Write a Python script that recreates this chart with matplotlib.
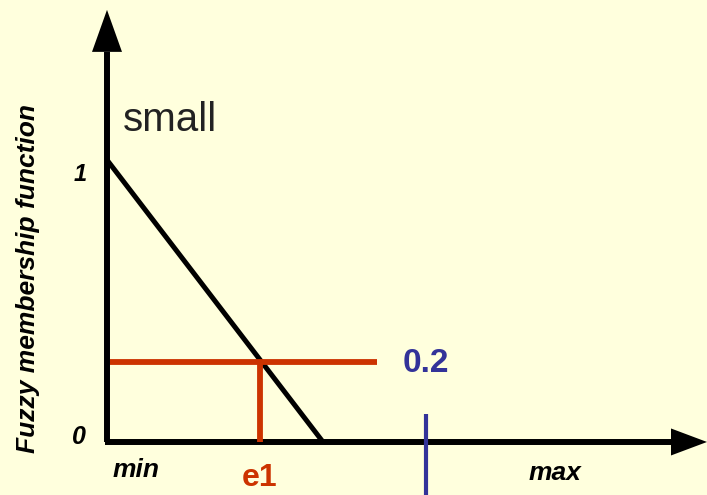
import numpy as np
from matplotlib import pyplot as plt

# membership function "small" (x in units of the universe, min=0)
mf_x = [0.0, 0.5]
mf_y = [1.0, 0.0]

e1 = 0.354          # crisp input
e1_level = 0.285    # membership degree read at e1
cut_end = 0.625     # where the red cut line stops
blue_x = 0.738      # blue marker
blue_top = 0.10

x_lim = (-0.2477, 1.389)
y_lim = (-0.188, 1.567)
x_axis_end = 1.389
y_axis_end = 1.532

bg = '#FFFFDD'
red = '#CC3300'
blue = '#333399'

fig = plt.figure(figsize=(7.07, 4.95), dpi=100, facecolor=bg)
ax = fig.add_axes([0, 0, 1, 1])
ax.set_facecolor(bg)
ax.set_xlim(*x_lim)
ax.set_ylim(*y_lim)
ax.axis('off')

# pixel -> data helpers for the arrow heads
sx = (x_lim[1] - x_lim[0]) / 707
sy = (y_lim[1] - y_lim[0]) / 495

# axes with arrow heads
head_len_y, head_w_y = 42 * sy, 15 * sx
ax.plot([0, 0], [0, y_axis_end - head_len_y], color='black', lw=4.3, solid_capstyle='butt')
ax.fill([-head_w_y, head_w_y, 0], [y_axis_end - head_len_y] * 2 + [y_axis_end], color='black', lw=0)

head_len_x, head_w_x = 36 * sx, 13.5 * sy
ax.plot([-2 * sx, x_axis_end - head_len_x], [0, 0], color='black', lw=4.3, solid_capstyle='butt')
ax.fill([x_axis_end - head_len_x] * 2 + [x_axis_end], [-head_w_x, head_w_x, 0], color='black', lw=0)

# membership line
ax.plot(mf_x, mf_y, color='black', lw=3.6, solid_capstyle='butt')

# cut lines
ax.plot([3 * sx, cut_end], [e1_level, e1_level], color=red, lw=4.2, solid_capstyle='butt')
ax.plot([e1, e1], [0, e1_level], color=red, lw=4.2, solid_capstyle='butt')
ax.plot([blue_x, blue_x], [y_lim[0], blue_top], color=blue, lw=3.0, solid_capstyle='butt')

# texts
ax.text(0.037, 1.142, 'small', fontsize=29, color='#222222', family='Liberation Sans',
        ha='left', va='center')
ax.text(-0.062, 0.947, '1', fontsize=17, style='italic', weight='bold',
        family='Liberation Sans', ha='center', va='center')
ax.text(-0.064, 0.018, '0', fontsize=18, style='italic', weight='bold',
        family='Liberation Sans', ha='center', va='center')
ax.text(0.067, -0.099, 'min', fontsize=19, style='italic', weight='bold',
        family='Liberation Sans', ha='center', va='center')
ax.text(1.037, -0.11, 'max', fontsize=19, style='italic', weight='bold',
        family='Liberation Sans', ha='center', va='center')
ax.text(e1, -0.128, 'e1', fontsize=23, weight='bold', color=red,
        family='Liberation Sans', ha='center', va='center')
ax.text(blue_x, 0.28, '0.2', fontsize=24, weight='bold', color=blue,
        family='Liberation Sans', ha='center', va='center')
ax.text(-0.183, 0.58, 'Fuzzy membership function', fontsize=19, style='italic',
        weight='bold', family='Liberation Sans', rotation=90,
        ha='center', va='center')

fig.savefig('out.png', dpi=100, facecolor=bg)
